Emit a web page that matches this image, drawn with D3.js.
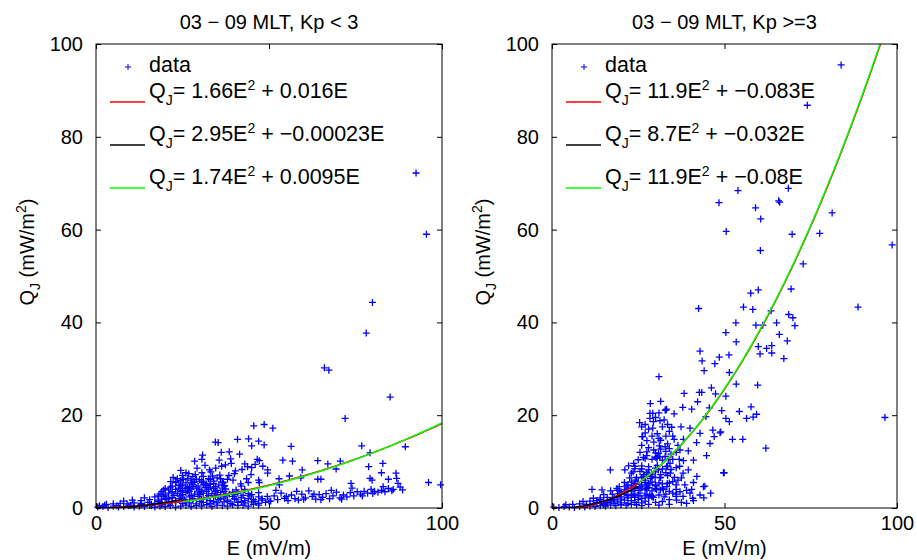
<!DOCTYPE html>
<html><head><meta charset="utf-8">
<script src="https://cdn.jsdelivr.net/npm/d3@7/dist/d3.min.js"></script>
<style>body{margin:0;background:#fff}text{font-family:"Liberation Sans",Arial,Helvetica,sans-serif;fill:#000}</style>
</head><body><svg id="c" width="917" height="560"></svg>
<script>
const xTicks = [0, 50, 100];
const yTicks = [0, 20, 40, 60, 80, 100];
const titles = ["03 − 09 MLT, Kp < 3", "03 − 09 MLT, Kp >=3"];
const fitColors = ["#ff0000", "#000000", "#00ff00"];
// fit coefficients [a, b, Emin, Emax]: Q = a*E^2 + b*E  (E in V/m, Q in W/m^2)
const leftFits = [[1.66, 0.016, 0, 100], [2.95, -0.00023, 0, 25], [1.74, 0.0095, 25, 100]];
const rightFits = [[11.9, -0.083, 0, 100], [8.7, -0.032, 0, 25], [11.9, -0.08, 25, 100]];
const leftLabels = [["1.66", "0.016"], ["2.95", "−0.00023"], ["1.74", "0.0095"]];
const rightLabels = [["11.9", "−0.083"], ["8.7", "−0.032"], ["11.9", "−0.08"]];

const leftData = [
[92.5,72.2],[95.5,59.0],[79.9,44.3],[78.1,37.7],[66.0,30.2],[67.3,29.7],[85.0,23.9],[72.0,19.3],[51.1,17.2],[76.8,13.4],
[89.4,13.2],[56.4,13.3],[79.2,11.9],[54.0,10.3],[56.8,10.1],[64.1,10.2],[67.0,9.5],[70.6,10.1],[69.4,8.4],[78.8,8.9],
[82.9,9.6],[59.6,8.2],[82.5,7.6],[86.7,7.5],[55.9,6.9],[52.9,6.3],[59.2,6.5],[64.1,6.2],[65.0,6.2],[79.2,6.4],
[79.8,6.0],[84.5,6.2],[86.9,6.4],[87.3,5.3],[73.7,5.3],[87.9,4.5],[88.6,3.9],[85.9,4.0],[96.1,5.5],[99.6,5.0],[53.0,5.0],
[45.6,17.7],[48.6,18.0],[40.9,14.8],[44.1,14.9],[47.0,14.4],[45.0,13.4],[48.6,13.6],[34.5,14.2],[35.3,14.1],[36.2,12.0],
[38.5,12.1],[41.5,11.6],[30.8,11.4],[30.6,10.5],[28.5,10.1],[46.6,10.5],[47.2,10.2],[35.6,10.3],[38.9,10.6],[43.0,9.5],
[43.8,8.9],[45.0,8.7],[46.0,9.4],[48.2,9.0],[49.6,8.2],[49.6,7.5],[36.3,9.0],[37.4,9.3],[39.1,9.6],[40.3,8.0],
[32.8,8.2],[33.2,7.8],[30.6,7.6],[33.7,6.9],[35.8,7.1],[38.4,7.0],[26.0,7.6],[26.8,7.4],[28.7,7.2],[22.3,6.6],
[23.1,5.7],[21.6,5.7],[25.2,6.2],[47.0,6.0],[47.2,5.5],[24.0,4.9],[27.5,5.5],[29.9,6.1],[31.8,5.2],[34.0,5.8],
[36.8,5.4],[39.6,6.0],[41.8,5.2],[43.5,6.3],[24.5,8.1],[29.2,8.6],[31.5,9.2],[34.6,8.6],[40.0,7.4],[42.2,8.3],
[44.8,7.2],[37.2,4.8],[33.0,4.5],[28.0,4.6],[25.8,4.2],
[0.5,0.2],[2,0.3],[3.5,0.1],[5,0.4],[6.5,0.2],[8,0.3],[9.5,0.5],[11,0.2],[12.5,0.4],[14,0.3],[15.5,0.6],[17,0.2],
[18.5,0.4],[20,0.3],[21.5,0.5],[23,0.2],[24.5,0.4],[26,0.6],[27.5,0.3],[29,0.5],[30.5,0.4],[32,0.7],[33.5,0.3],
[35,0.6],[36.5,0.5],[38,0.4],[39.5,0.7],[41,0.5],[42.5,0.6],[44,0.4],[45.5,0.8],[47,0.6],
[1,0.5],[2.5,0.6],[6,0.5],[10,0.6],[13,0.7],[16,0.5],[19,0.7],
[3,0.8],[5,0.9],[7,1.0],[9,0.9],[11,1.1],[13,1.0],[15,1.2],[17,1.0],[19,1.1],[21,0.9],[23,1.2],[25,1.0],[27,1.1],
[29,0.9],[31,1.2],[33,1.0],[35,1.1],[37,1.3],[39,1.0],[41,1.2],[43,1.1],[45,1.3],[47,1.0],[49,1.2],
[8,1.5],[10.5,1.7],[13,1.6],[15.5,1.8],[18,1.7],[20.5,1.9],[23,1.6],[25.5,1.8],[28,1.7],[30.5,1.9],[33,1.6],
[35.5,1.8],[38,1.7],[40.5,1.9],[43,1.6],[45.5,1.8],[48,1.7],[50,1.5],
[16,0.8],[18,1.4],[20,2.0],[22,1.4],[24,2.0],[26,1.4],[28,2.0],[30,1.4],[32,2.0],[34,1.4],[36,2.0],[38,1.4],
[40,2.0],[42,1.4],[44,2.0],[46,1.4],[48,2.0],
[14,2.2],[17,2.4],[19.5,2.5],[22,2.3],[24.5,2.6],[27,2.4],[29.5,2.5],[32,2.3],[34.5,2.6],[37,2.4],[39.5,2.5],
[42,2.3],[44.5,2.6],[47,2.4],[49.5,2.5],
[20,2.8],[22.5,2.7],[25,2.9],[27.5,2.7],[30,2.9],[32.5,2.7],[35,2.9],[37.5,2.7],[40,2.9],[42.5,2.7],[45,2.9],
[18.5,3.0],[21,3.2],[23.5,3.1],[26,3.3],[28.5,3.0],[31,3.2],[33.5,3.1],[36,3.3],[38.5,3.0],[41,3.2],[44,3.1],[47,3.3],
[22,3.5],[24.5,3.5],[27,3.6],[29.5,3.4],[32,3.6],[34.5,3.5],[37,3.6],[39.5,3.4],
[21,3.9],[23,4.0],[25,3.8],[27.5,4.1],[30,3.9],[32.5,4.0],[35,3.8],[37.5,4.1],[40.5,3.9],[43,4.0],
[24,4.3],[26.5,4.4],[29,4.3],[31.5,4.4],[34,4.2],[36.5,4.3],
[22,4.7],[24.5,4.8],[27,4.6],[29.5,4.7],[32,4.9],[34.5,4.6],[37,4.8],[42,4.7],
[25,5.0],[28,5.1],[31,5.0],[33,5.1],[35.5,5.0],
[23,5.5],[26,5.4],[28.5,5.6],[31,5.5],[34,5.3],[36.5,5.6],[44,5.5],
[24.5,5.9],[27.5,6.0],[30.5,5.8],[33,6.1],
[23.5,6.3],[26.5,6.4],[29,6.2],[32.5,6.3],[35,6.5],[38,6.2],
[25,7.0],[28,6.8],[31,6.8],[36,6.3],
[18,2.6],[19,3.5],[20,4.2],[21.5,4.5],[19.5,3.9],[25,2.2],[21,2.1],[19,1.9],[26.5,3.7],[30.5,3.6],
[50.5,1.5],[51.5,2.6],[52.5,1.8],[53.5,3.2],[54.5,2.1],[55.5,1.6],[56.5,2.8],[57.5,2.0],[58.5,1.7],[59.5,3.0],
[60.5,2.2],[61.5,3.7],[62.5,2.5],[63.5,1.9],[64.5,2.9],[65.5,2.3],[66.5,3.1],[67.5,2.0],[68.5,2.6],[69.5,3.4],
[70.5,2.2],[71.5,2.8],[72.5,2.4],[73.5,3.3],[74.5,2.6],[75.5,3.5],[76.5,3.0],[77.5,3.6],[78.5,3.2],[79.5,4.0],
[80.5,3.6],[81.5,3.4],[82.5,3.8],[83.5,3.5],[84.5,4.2],[85.5,3.7],[52,3.8],[55,2.5],[58,3.6],[60,1.9],[63,3.0],
[65,1.8],[68,3.8],[71,1.9],[74,4.3],[77,2.6],[80,3.1],[83,4.6]
];

const rightData = [
[83.8,95.5],[74.0,86.8],[53.9,68.4],[48.4,65.8],[68.5,68.9],[65.7,66.2],[66.0,65.9],[59.0,64.7],[60.5,62.3],[81.2,63.6],
[50.5,59.6],[69.6,59.0],[77.6,59.2],[98.6,56.7],[60.4,55.5],[72.8,52.6],[96.5,19.5],[88.7,43.3],
[57.6,46.3],[59.8,47.0],[69.3,47.2],[42.5,43.0],[55.5,43.3],[58.2,42.8],[63.5,42.5],[68.6,41.7],[69.8,41.0],[70.4,39.3],
[53.3,39.9],[59.1,39.4],[61.1,39.4],[65.1,39.9],[50.4,37.8],[65.9,37.4],[53.4,35.8],[68.2,36.0],[42.9,33.8],[59.8,34.8],
[62.2,34.4],[63.7,35.0],[60.3,33.2],[63.7,33.4],[67.2,32.2],[43.5,31.7],[48.5,32.5],[47.2,31.1],[44.1,29.6],[51.3,33.0],
[51.4,29.2],[31.0,28.3],[53.4,26.7],[59.6,26.5],[46.2,25.9],[38.3,24.7],[42.7,24.9],[43.4,24.9],[47.4,24.6],[50.4,24.1],
[42.2,22.9],[37.9,21.7],[40.5,21.3],[45.6,21.6],[49.2,21.0],[57.7,21.8],[54.3,20.8],[33.0,21.1],[35.4,20.3],[44.6,19.7],
[50.4,19.3],[51.4,18.6],[56.4,19.3],[58.3,19.6],[59.3,20.2],[29.2,20.4],[28.4,19.3],[31.3,18.8],[34.7,17.4],[37.4,17.5],
[40.0,17.2],[42.9,16.1],[46.6,16.8],[48.7,16.2],[26.0,17.5],[26.3,15.4],[35.4,14.8],[38.1,14.8],[41.9,14.1],[45.8,13.9],
[52.3,14.8],[55.3,14.8],[47.0,15.4],[48.9,16.4],[62.0,12.9],[44.8,11.3],[32.8,13.2],[31.1,13.4],[37.1,12.5],[39.5,12.3],
[41.0,10.3],[38.1,10.2],[36.9,10.5],[33.7,10.5],[30.5,11.1],[30.1,10.9],[31.3,11.0],[39.5,8.2],[49.9,7.6],[33.2,8.9],
[34.2,9.6],[26.5,10.9],[43.9,4.6],[40.5,4.0],[42.9,2.8],[40.8,2.1],[36.1,1.7],[37.1,3.5],[32.5,2.4],[29.4,2.3],
[28.4,2.8],[27.9,5.0],[30.3,4.0],[32.3,4.0],[33.4,5.3],[35.0,5.7],[28.9,6.8],[29.9,6.6],[31.3,6.5],[27.4,7.3],
[26.0,6.5],[27.0,6.0],[30.8,8.2],[44.3,4.7],[49.7,7.6],[32.8,21.1],[33.2,21.3],[28.4,20.4],[29.4,18.6],
[16.9,8.2],[25.4,18.4],[26.1,15.4],[29.2,17.2],[14.5,3.9],[11.6,4.0],[18.8,4.2],[21.1,8.2],[22.2,9.1],[23.7,9.6],
[23.0,7.5],[24.1,6.0],[26.6,6.8],[27.5,4.2],[29.0,2.4],[31.4,3.9],[33.3,4.6],[34.3,7.5],[30.9,11.8],[32.8,11.1],[30.4,10.7],
[26,13.5],[28,13.0],[29.5,14.2],[31.5,14.6],[33.5,13.8],[27,16.2],[30.5,16.0],[32,17.5],[34,16.5],[28.5,22.5],[31.5,23.0],
[27,18],[28,17],[30,19.5],[31,20.5],[32.5,19],[33.5,18],[29,15.5],[27.5,14.5],[31,15],[33,15.5],[35,15.5],[36.5,13.5],
[35,10.5],[34,12.8],[37,9],[38,7.5],[36.5,6],[38.5,5],[39,3.8],[41,5.5],[42,6.8],[36,4],[37.5,1.2],[39,1.0],[34,0.8],
[31,0.6],[41,1.6],[44,2.2],[46,3.2],
[22,5.0],[24,5.3],[26,5.0],[28,5.3],[30,5.0],[32,5.2],[34,5.4],[36,5.0],
[24,4.2],[26,4.3],[28,4.4],[30,4.2],[32,4.3],[34,3.6],[36,3.0],[38,2.5],[40,3.2],
[23,2.6],[25,2.6],[27,2.6],[29,2.6],[31,2.8],[33,3.0],[35,3.2],
[26,0.5],[28,0.8],[30,1.2],[32,1.4],[34,1.8],[36,2.5],
[24,8.5],[26,8.4],[28,8.2],[30,8.6],[32,8.4],[34.5,8.3],[36,8.7],
[26.5,7.2],[29,7.3],[31.5,7.2],[33.5,7.0],[35.5,6.6],[37.5,6.5],
[27.5,11.3],[29.5,12.5],[31.5,12.7],[34.5,11.6],[36,12.0],
[14,1.8],[16,1.2],[18,1.8],[20,1.9],[22,2.7],[24,2.8],[13,1.2],[15,0.7],[17,1.3],[19,2.4],[21,3.4],[23,4.2],
[20,3.5],[22,4.3],[24,5.2],
[0.5,0.2],[2,0.1],[3.5,0.3],[5,0.2],[6.5,0.1],[8,0.3],[9.5,0.2],[11,0.4],[12.5,0.3],[14,0.5],[15.5,0.4],[17,0.6],
[18.5,0.5],[20,0.7],[21.5,0.6],[23,0.8],[24.5,0.7],
[4,0.7],[6,0.8],[8,0.9],[10,0.8],[12,0.9],[14,1.0],[16,0.9],[18,1.0],[20,1.1],[22,1.0],[24,1.2],[26,1.1],
[9,1.4],[11,1.5],[13,1.6],[15,1.5],[17,1.6],[19,1.5],[21,1.7],[23,1.6],[25,1.8],[27,1.5],
[12,2.1],[14,2.2],[16,2.3],[18,2.2],[20,2.4],[22,2.2],[24,2.3],[26,2.1],[28,2.2],
[15,2.9],[17.5,3.0],[19.5,3.1],[21.5,2.9],[23.5,3.0],[25.5,3.2],[27.5,3.0],
[17,3.7],[19,3.8],[21,3.9],[23,3.7],[25,3.8],[27,3.9],[29,3.7],
[19.5,4.6],[21.5,4.7],[23.5,4.8],[25.5,4.6],[27.5,4.7],[30,4.8],
[21,5.5],[23,5.6],[25,5.7],[27,5.5],[29,5.6],[31,5.4],
[22.5,6.5],[24.5,6.6],[26.5,6.7],[28.5,6.4],[31.5,6.6],
[23.5,7.8],[25.5,7.9],[27.5,7.7],[30,7.8],[33,7.6],
[24,9.0],[26,9.1],[28,8.9],[30.5,9.2],[33.5,9.0],
[25,10.4],[27,10.6],[29,10.5],[32,10.3],
[25.5,12.0],[27.5,12.1],[30,11.9],[33,12.2]
];

const svg = d3.select("#c");
const panels = [
  {x0: 96, x1: 442, data: leftData, fits: leftFits, labels: leftLabels, title: titles[0]},
  {x0: 552, x1: 897, data: rightData, fits: rightFits, labels: rightLabels, title: titles[1]}
];
const yTop = 44, yBot = 508;
const FS = 20, LFS = 21.5, SFS = 14;

panels.forEach((p, pi) => {
  const x = d3.scaleLinear().domain([0, 100]).range([p.x0, p.x1]);
  const y = d3.scaleLinear().domain([0, 100]).range([yBot, yTop]);
  const g = svg.append("g");
  const cid = "clip" + pi;
  svg.append("clipPath").attr("id", cid).append("rect")
    .attr("x", p.x0).attr("y", yTop).attr("width", p.x1 - p.x0).attr("height", yBot - yTop);

  // data markers
  const m = 3.5;
  g.append("g").selectAll("path").data(p.data).join("path")
    .attr("d", d => { const cx = x(d[0]), cy = y(d[1]);
      return `M${cx - m},${cy}H${cx + m}M${cx},${cy - m}V${cy + m}`; })
    .attr("stroke", "#0000ff").attr("stroke-width", 1.3).attr("fill", "none");

  // fits
  p.fits.forEach((f, i) => {
    const pts = d3.range(f[2], f[3] + 0.001, 0.5).map(E => [E, 1000 * f[0] * (E / 1000) ** 2 + f[1] * E]);
    g.append("path").datum(pts)
      .attr("clip-path", `url(#${cid})`)
      .attr("d", d3.line().x(d => x(d[0])).y(d => y(d[1])))
      .attr("fill", "none").attr("stroke", fitColors[i]).attr("stroke-width", 1.5);
  });

  // box
  g.append("rect").attr("x", p.x0).attr("y", yTop).attr("width", p.x1 - p.x0).attr("height", yBot - yTop)
    .attr("fill", "none").attr("stroke", "#000").attr("stroke-width", 1);

  // axes
  const tl = 5;
  const xb = d3.axisBottom(x).tickValues(xTicks).tickSize(-tl).tickPadding(8).tickFormat(d3.format("d"));
  const xt = d3.axisTop(x).tickValues(xTicks).tickSize(-tl).tickFormat("");
  const yl = d3.axisLeft(y).tickValues(yTicks).tickSize(-tl).tickPadding(13).tickFormat(d3.format("d"));
  const yr = d3.axisRight(y).tickValues(yTicks).tickSize(-tl).tickFormat("");
  [[xb, `translate(0,${yBot})`], [xt, `translate(0,${yTop})`], [yl, `translate(${p.x0},0)`], [yr, `translate(${p.x1},0)`]]
    .forEach(([ax, tr]) => {
      const a = g.append("g").attr("transform", tr).call(ax);
      a.select(".domain").remove();
      a.selectAll("line").attr("stroke", "#000");
      a.selectAll("text").attr("font-size", FS).attr("font-family", '"Liberation Sans",Arial,sans-serif').attr("fill", "#000");
    });

  // title
  const cx = (p.x0 + p.x1) / 2;
  g.append("text").attr("x", cx).attr("y", 29).attr("text-anchor", "middle").attr("font-size", FS).text(p.title);
  // x label
  g.append("text").attr("x", cx).attr("y", 555).attr("text-anchor", "middle").attr("font-size", FS).text("E (mV/m)");
  // y label
  const yl2 = g.append("text").attr("transform", `translate(${p.x0 - 62},252) rotate(-90)`)
    .attr("text-anchor", "middle").attr("font-size", FS);
  yl2.append("tspan").text("Q");
  yl2.append("tspan").attr("font-size", 14).attr("dy", 6).text("J");
  yl2.append("tspan").attr("dy", -6).text(" (mW/m");
  yl2.append("tspan").attr("font-size", 14).attr("dy", -8).text("2");
  yl2.append("tspan").attr("dy", 8).text(")");

  // legend
  const lg = g.append("g");
  const mx = p.x0 + 32, my = 67, lm = 3;
  lg.append("path").attr("d", `M${mx - lm},${my}H${mx + lm}M${mx},${my - lm}V${my + lm}`)
    .attr("stroke", "#0000ff").attr("fill", "none");
  lg.append("text").attr("x", p.x0 + 53).attr("y", 72).attr("font-size", LFS).text("data");
  const lineY = [102, 145, 188];
  p.labels.forEach((lab, i) => {
    lg.append("line").attr("x1", p.x0 + 14).attr("x2", p.x0 + 49).attr("y1", lineY[i]).attr("y2", lineY[i])
      .attr("stroke", fitColors[i]).attr("stroke-width", 1.5);
    const t = lg.append("text").attr("x", p.x0 + 53).attr("y", lineY[i] - 4).attr("font-size", LFS);
    t.append("tspan").text("Q");
    t.append("tspan").attr("font-size", SFS).attr("dy", 7).text("J");
    t.append("tspan").attr("dy", -7).text("= " + lab[0] + "E");
    t.append("tspan").attr("font-size", SFS).attr("dy", -8).text("2");
    t.append("tspan").attr("dy", 8).text(" + " + lab[1] + "E");
  });
});
</script></body></html>
